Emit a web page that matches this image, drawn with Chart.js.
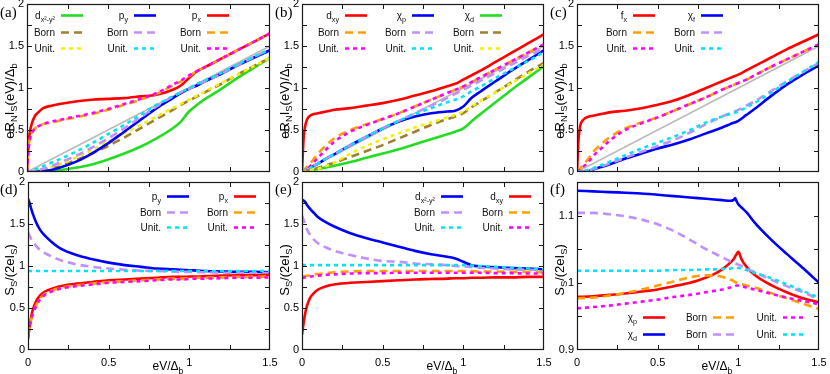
<!DOCTYPE html>
<html>
<head>
<meta charset="utf-8">
<script src="https://cdn.jsdelivr.net/npm/chart.js@4/dist/chart.umd.min.js"></script>
<style>
  body { margin: 0; background: #fff; }
  #wrap { position: relative; width: 830px; height: 374px; }
  #wrap canvas { position: absolute; left: 0; top: 0; }
</style>
</head>
<body>
<div id="wrap"></div>
<script>
// x grid shared by panels a-e, and a finer one for f (cusp near 1)
const xs  = [0,0.01,0.02,0.03,0.05,0.075,0.1,0.15,0.2,0.3,0.4,0.5,0.6,0.7,0.8,0.9,0.95,1.0,1.05,1.1,1.2,1.3,1.4,1.5];
const xsF = [0,0.1,0.2,0.3,0.4,0.5,0.6,0.7,0.8,0.85,0.9,0.95,0.97,0.98,0.99,1.0,1.02,1.05,1.1,1.2,1.3,1.4,1.5];
const diagX = [0, 1.5];
const diagY = [0, 1.5];

// (a)
const aDx2      = [0,0,0,0,0,0.002,0.005,0.01,0.02,0.05,0.09,0.15,0.22,0.3,0.4,0.52,0.6,0.72,0.8,0.87,0.99,1.12,1.24,1.36];
const aDx2Born  = [0,0,0,0.002,0.005,0.01,0.02,0.04,0.07,0.14,0.22,0.31,0.41,0.52,0.63,0.74,0.8,0.85,0.9,0.95,1.05,1.16,1.26,1.36];
const aDx2Unit  = [0,0.002,0.005,0.008,0.014,0.025,0.035,0.06,0.09,0.17,0.26,0.36,0.46,0.56,0.66,0.76,0.81,0.86,0.91,0.96,1.06,1.16,1.26,1.36];
const aPy       = [0,0,0,0,0.002,0.005,0.01,0.025,0.05,0.12,0.22,0.34,0.48,0.62,0.76,0.88,0.94,0.99,1.03,1.08,1.17,1.27,1.36,1.45];
const aPyBorn   = [0,0,0.003,0.007,0.015,0.025,0.04,0.07,0.11,0.19,0.29,0.4,0.52,0.65,0.78,0.9,0.95,0.99,1.04,1.08,1.17,1.27,1.37,1.46];
const aPyUnit   = [0,0.003,0.008,0.015,0.03,0.05,0.07,0.11,0.15,0.24,0.34,0.45,0.56,0.68,0.8,0.9,0.95,1.0,1.05,1.09,1.18,1.28,1.37,1.46];
const aPx       = [0,0.35,0.5,0.58,0.67,0.72,0.76,0.79,0.81,0.84,0.86,0.87,0.88,0.9,0.92,0.98,1.03,1.12,1.2,1.25,1.35,1.45,1.55,1.65];
const aPxBorn   = [0,0.3,0.42,0.47,0.52,0.55,0.57,0.59,0.61,0.65,0.69,0.74,0.8,0.86,0.93,1.03,1.08,1.14,1.2,1.25,1.35,1.45,1.55,1.64];
const aPxUnit   = [0,0.28,0.4,0.46,0.52,0.55,0.57,0.6,0.62,0.66,0.7,0.75,0.81,0.87,0.94,1.04,1.09,1.15,1.2,1.25,1.35,1.45,1.55,1.65];

// (b)
const bDxy      = [0,0.4,0.55,0.62,0.67,0.69,0.7,0.72,0.74,0.76,0.79,0.82,0.86,0.91,0.96,1.02,1.05,1.1,1.15,1.2,1.31,1.42,1.53,1.64];
const bDxyBorn  = [0,0.02,0.04,0.06,0.1,0.16,0.22,0.32,0.4,0.5,0.57,0.63,0.7,0.78,0.86,0.94,0.98,1.02,1.07,1.12,1.22,1.32,1.42,1.52];
const bDxyUnit  = [0,0.01,0.02,0.04,0.07,0.12,0.17,0.27,0.36,0.48,0.56,0.63,0.7,0.78,0.86,0.94,0.98,1.02,1.07,1.12,1.22,1.32,1.42,1.52];
const bXp       = [0,0.01,0.02,0.03,0.05,0.075,0.1,0.16,0.21,0.32,0.42,0.52,0.6,0.66,0.7,0.72,0.73,0.78,0.88,0.95,1.08,1.21,1.33,1.45];
const bXpBorn   = [0,0.01,0.02,0.03,0.05,0.075,0.1,0.16,0.21,0.32,0.42,0.52,0.61,0.7,0.79,0.88,0.93,0.98,1.03,1.08,1.18,1.28,1.38,1.47];
const bXpUnit   = [0,0.01,0.02,0.03,0.05,0.075,0.1,0.16,0.21,0.32,0.42,0.52,0.61,0.69,0.76,0.83,0.86,0.9,0.96,1.01,1.12,1.22,1.32,1.43];
const bXd       = [0,0.003,0.006,0.01,0.018,0.027,0.036,0.055,0.075,0.12,0.17,0.22,0.27,0.33,0.39,0.45,0.48,0.52,0.6,0.68,0.83,0.98,1.12,1.26];
const bXdBorn   = [0,0.004,0.008,0.014,0.025,0.038,0.05,0.08,0.11,0.18,0.25,0.32,0.4,0.48,0.56,0.63,0.66,0.7,0.77,0.83,0.95,1.07,1.19,1.3];
const bXdUnit   = [0,0.003,0.006,0.01,0.02,0.03,0.04,0.07,0.11,0.22,0.31,0.39,0.46,0.53,0.59,0.65,0.68,0.72,0.78,0.84,0.95,1.06,1.17,1.28];

// (c)
const cFx       = [0,0.4,0.55,0.6,0.64,0.66,0.67,0.69,0.71,0.73,0.76,0.8,0.85,0.92,1.0,1.08,1.12,1.16,1.21,1.26,1.36,1.46,1.55,1.64];
const cFxBorn   = [0,0.02,0.04,0.07,0.11,0.17,0.24,0.33,0.41,0.52,0.59,0.65,0.73,0.81,0.89,0.98,1.02,1.06,1.1,1.15,1.25,1.34,1.43,1.52];
const cFxUnit   = [0,0.01,0.03,0.05,0.08,0.13,0.19,0.28,0.37,0.5,0.58,0.65,0.73,0.81,0.89,0.98,1.02,1.06,1.1,1.15,1.25,1.34,1.43,1.52];
const cXf       = [0,0,0.002,0.004,0.008,0.013,0.03,0.06,0.09,0.16,0.22,0.28,0.33,0.39,0.46,0.53,0.57,0.61,0.68,0.75,0.9,1.04,1.16,1.27];
const cXfBorn   = [0,0,0.003,0.006,0.012,0.02,0.035,0.065,0.1,0.17,0.24,0.31,0.38,0.47,0.57,0.66,0.7,0.74,0.79,0.84,0.96,1.08,1.19,1.3];
const cXfUnit   = [0,0.002,0.005,0.009,0.017,0.028,0.045,0.08,0.12,0.2,0.28,0.35,0.42,0.5,0.59,0.66,0.69,0.72,0.77,0.82,0.94,1.07,1.19,1.31];

// (d)
const dPy       = [1.8,1.75,1.68,1.62,1.52,1.43,1.37,1.28,1.21,1.13,1.08,1.04,1.01,0.99,0.97,0.96,0.955,0.95,0.945,0.94,0.935,0.93,0.93,0.925];
const dPyBorn   = [1.4,1.36,1.32,1.29,1.24,1.19,1.16,1.11,1.07,1.02,0.99,0.97,0.955,0.945,0.94,0.935,0.93,0.93,0.925,0.925,0.92,0.92,0.915,0.915];
const dPyUnit   = [0.94,0.94,0.94,0.94,0.94,0.94,0.94,0.94,0.94,0.94,0.94,0.94,0.94,0.94,0.94,0.94,0.94,0.94,0.94,0.94,0.94,0.94,0.94,0.94];
const dPx       = [0.13,0.28,0.4,0.48,0.58,0.65,0.69,0.73,0.76,0.79,0.81,0.83,0.84,0.85,0.86,0.87,0.87,0.875,0.875,0.88,0.885,0.89,0.89,0.895];
const dPxBorn   = [0.18,0.27,0.36,0.43,0.53,0.61,0.66,0.71,0.74,0.77,0.79,0.81,0.82,0.83,0.84,0.85,0.85,0.855,0.86,0.86,0.865,0.87,0.87,0.875];
const dPxUnit   = [0.2,0.28,0.36,0.43,0.52,0.6,0.65,0.7,0.73,0.76,0.78,0.8,0.81,0.82,0.83,0.84,0.84,0.845,0.85,0.85,0.855,0.86,0.86,0.865];

// (e)
const eDx2      = [1.79,1.78,1.76,1.73,1.68,1.63,1.58,1.52,1.47,1.39,1.33,1.28,1.23,1.18,1.14,1.11,1.09,1.05,1.01,0.995,0.985,0.975,0.97,0.96];
const eDx2Born  = [1.6,1.55,1.49,1.44,1.37,1.31,1.27,1.22,1.18,1.13,1.09,1.06,1.05,1.03,1.02,1.01,1.0,0.995,0.99,0.98,0.97,0.96,0.955,0.95];
const eDx2Unit  = [1.01,1.01,1.01,1.01,1.01,1.01,1.01,1.01,1.01,1.01,1.01,1.01,1.01,1.01,1.01,1.01,1.01,1.01,1.005,1.0,0.99,0.98,0.97,0.96];
const eDxy      = [0.18,0.32,0.44,0.52,0.62,0.68,0.72,0.76,0.78,0.8,0.81,0.82,0.83,0.84,0.845,0.85,0.855,0.855,0.86,0.86,0.865,0.865,0.87,0.87];
const eDxyBorn  = [0.87,0.875,0.88,0.885,0.89,0.9,0.905,0.915,0.925,0.935,0.94,0.94,0.94,0.94,0.94,0.94,0.94,0.94,0.94,0.935,0.935,0.93,0.93,0.925];
const eDxyUnit  = [0.855,0.86,0.865,0.87,0.875,0.88,0.885,0.895,0.9,0.91,0.915,0.915,0.92,0.92,0.92,0.92,0.92,0.92,0.92,0.92,0.915,0.915,0.91,0.91];

// (f)
const fXp       = [0.979,0.98,0.982,0.984,0.987,0.99,0.995,1.0,1.008,1.013,1.02,1.03,1.035,1.039,1.043,1.046,1.035,1.024,1.012,0.997,0.986,0.977,0.971];
const fXpBorn   = [0.977,0.978,0.981,0.985,0.99,0.996,1.002,1.008,1.011,1.011,1.009,1.005,1.003,1.001,1.0,0.999,0.998,0.996,0.993,0.985,0.977,0.969,0.961];
const fXpUnit   = [0.962,0.964,0.966,0.969,0.972,0.975,0.979,0.982,0.986,0.988,0.99,0.993,0.994,0.995,0.996,0.996,0.995,0.993,0.99,0.984,0.978,0.973,0.968];
const fXd       = [1.137,1.136,1.135,1.134,1.133,1.131,1.129,1.127,1.125,1.124,1.123,1.122,1.123,1.126,1.121,1.117,1.112,1.105,1.09,1.065,1.043,1.022,1.0];
const fXdBorn   = [1.104,1.104,1.102,1.099,1.094,1.087,1.077,1.064,1.05,1.044,1.038,1.032,1.03,1.029,1.028,1.027,1.025,1.021,1.016,1.005,0.995,0.986,0.976];
const fXdUnit   = [1.018,1.018,1.018,1.018,1.018,1.018,1.019,1.019,1.02,1.02,1.021,1.021,1.022,1.022,1.022,1.022,1.021,1.019,1.015,1.007,0.998,0.988,0.978];

const C = {
  red: '#ff0000', blue: '#0000ff', green: '#22dd22', orange: '#ffa000',
  magenta: '#ff00ff', purple: '#c090ff', cyan: '#00e5ee', brown: '#a08030',
  yellow: '#f2f200', gray: '#bbbbbb'
};
const DASH = { solid: [], born: [8, 5], unit: [4, 4] };
const SANS = '"Liberation Sans", Arial, sans-serif';
const SERIF = '"Liberation Serif", "Times New Roman", serif';

Chart.defaults.font.family = SANS;
Chart.defaults.font.size = 11;
Chart.defaults.color = '#000';

// tiny "_{sub}" / "^{sup}" markup for labels
function richParse(s) {
  const out = [];
  const re = /([_^])\{([^}]*)\}|([^_^]+)/g;
  let m;
  while ((m = re.exec(s))) {
    if (m[3]) out.push({ t: m[3], k: 0 });
    else out.push({ t: m[2], k: m[1] === '_' ? 1 : -1 });
  }
  return out;
}

function richDraw(ctx, s, x, y, size, align, fam) {
  const parts = richParse(s);
  const fonts = parts.map(p => (p.k ? size * 0.72 : size) + 'px ' + fam);
  let w = 0;
  const ws = parts.map((p, i) => { ctx.font = fonts[i]; const ww = ctx.measureText(p.t).width; w += ww; return ww; });
  let cx = align === 'right' ? x - w : align === 'center' ? x - w / 2 : x;
  ctx.textAlign = 'left';
  ctx.textBaseline = 'alphabetic';
  parts.forEach((p, i) => {
    ctx.font = fonts[i];
    const dy = p.k === 1 ? size * 0.3 : p.k === -1 ? -size * 0.4 : 0;
    ctx.fillText(p.t, cx, y + dy);
    cx += ws[i];
  });
}

// gnuplot look: closed border, inward mirrored ticks, key with sample on the right, texts
const decor = {
  id: 'decor',
  afterDatasetsDraw(chart, args, o) {
    const ctx = chart.ctx, a = chart.chartArea;
    ctx.save();
    ctx.strokeStyle = '#1a1a1a';
    ctx.lineWidth = 1.2;
    ctx.setLineDash([]);
    ctx.strokeRect(a.left + 0.5, a.top + 0.5, a.right - a.left - 1, a.bottom - a.top - 1);

    ctx.lineWidth = 1;
    const xsc = chart.scales.x, ysc = chart.scales.y;
    ctx.beginPath();
    xsc.ticks.forEach(t => {
      const p = Math.round(xsc.getPixelForValue(t.value)) + 0.5;
      if (p < a.left + 2 || p > a.right - 2) return;
      ctx.moveTo(p, a.bottom); ctx.lineTo(p, a.bottom - 5);
      ctx.moveTo(p, a.top); ctx.lineTo(p, a.top + 5);
    });
    ysc.ticks.forEach(t => {
      const p = Math.round(ysc.getPixelForValue(t.value)) + 0.5;
      if (p < a.top + 2 || p > a.bottom - 2) return;
      ctx.moveTo(a.left, p); ctx.lineTo(a.left + 5, p);
      ctx.moveTo(a.right, p); ctx.lineTo(a.right - 5, p);
    });
    ctx.stroke();

    // key
    ctx.fillStyle = '#111';
    chart.data.datasets.forEach(ds => {
      if (!ds.key) return;
      const tx = o.cols[ds.key[0]], ty = o.rows[ds.key[1]];
      richDraw(ctx, ds.label, tx, ty + 3.5, 10, 'right', SANS);
      ctx.save();
      ctx.strokeStyle = ds.borderColor;
      ctx.lineWidth = ds.borderWidth;
      ctx.setLineDash(ds.borderDash);
      ctx.beginPath();
      ctx.moveTo(tx + 6, ty + 0.5);
      ctx.lineTo(tx + 28, ty + 0.5);
      ctx.stroke();
      ctx.restore();
    });

    // panel tag, axis titles
    ctx.fillStyle = '#000';
    ctx.font = '15px ' + SERIF;
    ctx.textAlign = 'left';
    ctx.textBaseline = 'alphabetic';
    ctx.fillText(o.tag, o.tagX, o.tagY);

    ctx.save();
    ctx.translate(o.ytX, o.ytY);
    ctx.rotate(-Math.PI / 2);
    richDraw(ctx, o.ytitle, 0, 4.5, 13, 'center', SANS);
    ctx.restore();

    if (o.xtitle) richDraw(ctx, o.xtitle, a.left + 140, 370, 12, 'center', SANS);
    ctx.restore();
  }
};

function fmt(v) { return String(+v.toFixed(2)); }

function series(label, x, y, color, style, key, w) {
  return { label, x, y, color, style, key, w };
}

function panel(p) {
  const canvas = document.createElement('canvas');
  canvas.width = 830;
  canvas.height = 374;
  document.getElementById('wrap').appendChild(canvas);

  const datasets = p.sets.map((s, i) => ({
    label: s.label,
    data: s.x.map((xv, j) => ({ x: xv, y: s.y[j] })),
    borderColor: s.color,
    borderWidth: s.w || 2.6,
    borderDash: DASH[s.style],
    pointRadius: 0,
    fill: false,
    cubicInterpolationMode: 'monotone',
    order: -i,
    key: s.key
  }));

  new Chart(canvas, {
    type: 'line',
    data: { datasets },
    plugins: [decor],
    options: {
      responsive: false,
      animation: false,
      events: [],
      layout: { padding: p.pad },
      plugins: { legend: { display: false }, tooltip: { enabled: false }, decor: p.decor },
      scales: {
        x: {
          type: 'linear', min: 0, max: 1.5,
          grid: { display: false, drawTicks: false },
          border: { display: false },
          ticks: {
            display: p.xlabels, stepSize: 0.25, padding: 6, autoSkip: false, maxRotation: 0,
            callback: v => Math.abs(v * 2 - Math.round(v * 2)) < 1e-6 ? fmt(v) : ''
          },
          afterFit: s => { s.height = p.xlabels ? 22 : 0; s.paddingLeft = 0; s.paddingRight = 0; }
        },
        y: {
          type: 'linear', min: p.ymin, max: p.ymax,
          grid: { display: false, drawTicks: false },
          border: { display: false },
          ticks: {
            stepSize: p.ystep, padding: 3, autoSkip: false,
            callback: v => Math.abs(v / p.ylab - Math.round(v / p.ylab)) < 1e-6 ? fmt(v) : ''
          },
          afterFit: s => { s.width = 27; s.paddingTop = 0; s.paddingBottom = 0; }
        }
      }
    }
  });
}

const topTitle = 'eR_{N}I_{S}(eV)/Δ_{b}';
const botTitle = 'S_{S}/(2eI_{S})';
const xTitle = 'eV/Δ_{b}';
const topRows = [15, 32, 48];
const botRows = [196, 212, 227];

panel({
  pad: { left: 0, top: 4, right: 560, bottom: 202 }, xlabels: false,
  ymin: 0, ymax: 2, ystep: 0.25, ylab: 0.5,
  decor: { cols: [55, 128, 201], rows: topRows, tag: '(a)', tagX: 0, tagY: 17, ytitle: topTitle, ytX: 9, ytY: 101 },
  sets: [
    series('', diagX, diagY, C.gray, 'solid', null, 1.6),
    series('d_{x²-y²}', xs, aDx2, C.green, 'solid', [0, 0]),
    series('Born', xs, aDx2Born, C.brown, 'born', [0, 1]),
    series('Unit.', xs, aDx2Unit, C.yellow, 'unit', [0, 2]),
    series('p_{y}', xs, aPy, C.blue, 'solid', [1, 0]),
    series('Born', xs, aPyBorn, C.purple, 'born', [1, 1]),
    series('Unit.', xs, aPyUnit, C.cyan, 'unit', [1, 2]),
    series('p_{x}', xs, aPx, C.red, 'solid', [2, 0]),
    series('Born', xs, aPxBorn, C.orange, 'born', [2, 1]),
    series('Unit.', xs, aPxUnit, C.magenta, 'unit', [2, 2])
  ]
});

panel({
  pad: { left: 275, top: 4, right: 286, bottom: 202 }, xlabels: false,
  ymin: 0, ymax: 2, ystep: 0.25, ylab: 0.5,
  decor: { cols: [339, 406, 474], rows: topRows, tag: '(b)', tagX: 275, tagY: 17, ytitle: topTitle, ytX: 284, ytY: 101 },
  sets: [
    series('', diagX, diagY, C.gray, 'solid', null, 1.6),
    series('d_{xy}', xs, bDxy, C.red, 'solid', [0, 0]),
    series('Born', xs, bDxyBorn, C.orange, 'born', [0, 1]),
    series('Unit.', xs, bDxyUnit, C.magenta, 'unit', [0, 2]),
    series('χ_{p}', xs, bXp, C.blue, 'solid', [1, 0]),
    series('Born', xs, bXpBorn, C.purple, 'born', [1, 1]),
    series('Unit.', xs, bXpUnit, C.cyan, 'unit', [1, 2]),
    series('χ_{d}', xs, bXd, C.green, 'solid', [2, 0]),
    series('Born', xs, bXdBorn, C.brown, 'born', [2, 1]),
    series('Unit.', xs, bXdUnit, C.yellow, 'unit', [2, 2])
  ]
});

panel({
  pad: { left: 550, top: 4, right: 11, bottom: 202 }, xlabels: false,
  ymin: 0, ymax: 2, ystep: 0.25, ylab: 0.5,
  decor: { cols: [627, 695], rows: topRows, tag: '(c)', tagX: 550, tagY: 17, ytitle: topTitle, ytX: 559, ytY: 101 },
  sets: [
    series('', diagX, diagY, C.gray, 'solid', null, 1.6),
    series('f_{x}', xs, cFx, C.red, 'solid', [0, 0]),
    series('Born', xs, cFxBorn, C.orange, 'born', [0, 1]),
    series('Unit.', xs, cFxUnit, C.magenta, 'unit', [0, 2]),
    series('χ_{f}', xs, cXf, C.blue, 'solid', [1, 0]),
    series('Born', xs, cXfBorn, C.purple, 'born', [1, 1]),
    series('Unit.', xs, cXfUnit, C.cyan, 'unit', [1, 2])
  ]
});

panel({
  pad: { left: 1, top: 182, right: 560, bottom: 2 }, xlabels: true,
  ymin: 0, ymax: 2, ystep: 0.25, ylab: 0.5,
  decor: { cols: [161, 228], rows: botRows, tag: '(d)', tagX: 0, tagY: 194, ytitle: botTitle, ytX: 9, ytY: 270, xtitle: xTitle },
  sets: [
    series('p_{y}', xs, dPy, C.blue, 'solid', [0, 0]),
    series('Born', xs, dPyBorn, C.purple, 'born', [0, 1]),
    series('Unit.', xs, dPyUnit, C.cyan, 'unit', [0, 2]),
    series('p_{x}', xs, dPx, C.red, 'solid', [1, 0]),
    series('Born', xs, dPxBorn, C.orange, 'born', [1, 1]),
    series('Unit.', xs, dPxUnit, C.magenta, 'unit', [1, 2])
  ]
});

panel({
  pad: { left: 275, top: 182, right: 286, bottom: 2 }, xlabels: true,
  ymin: 0, ymax: 2, ystep: 0.25, ylab: 0.5,
  decor: { cols: [435, 503], rows: botRows, tag: '(e)', tagX: 275, tagY: 194, ytitle: botTitle, ytX: 284, ytY: 270, xtitle: xTitle },
  sets: [
    series('d_{x²-y²}', xs, eDx2, C.blue, 'solid', [0, 0]),
    series('Born', xs, eDx2Born, C.purple, 'born', [0, 1]),
    series('Unit.', xs, eDx2Unit, C.cyan, 'unit', [0, 2]),
    series('d_{xy}', xs, eDxy, C.red, 'solid', [1, 0]),
    series('Born', xs, eDxyBorn, C.orange, 'born', [1, 1]),
    series('Unit.', xs, eDxyUnit, C.magenta, 'unit', [1, 2])
  ]
});

panel({
  pad: { left: 550, top: 182, right: 11, bottom: 2 }, xlabels: true,
  ymin: 0.9, ymax: 1.15, ystep: 0.05, ylab: 0.1,
  decor: { cols: [637, 707, 777], rows: [317, 334], tag: '(f)', tagX: 550, tagY: 194, ytitle: botTitle, ytX: 559, ytY: 270, xtitle: xTitle },
  sets: [
    series('χ_{p}', xsF, fXp, C.red, 'solid', [0, 0]),
    series('Born', xsF, fXpBorn, C.orange, 'born', [1, 0]),
    series('Unit.', xsF, fXpUnit, C.magenta, 'unit', [2, 0]),
    series('χ_{d}', xsF, fXd, C.blue, 'solid', [0, 1]),
    series('Born', xsF, fXdBorn, C.purple, 'born', [1, 1]),
    series('Unit.', xsF, fXdUnit, C.cyan, 'unit', [2, 1])
  ]
});
</script>
</body>
</html>
